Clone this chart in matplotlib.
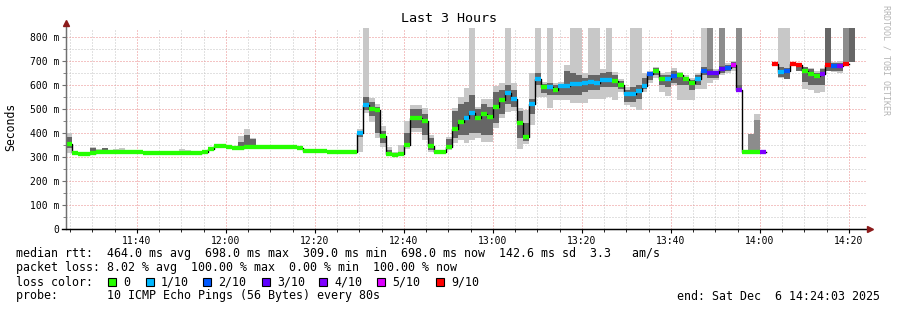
import numpy as np
import matplotlib
matplotlib.use('Agg')
import matplotlib.pyplot as plt
from matplotlib.patches import Rectangle

nan = np.nan

# window start 11:24:03 (minutes after midnight), one probe round every 80 s
start = 11 * 60 + 24 + 3 / 60
step = 80 / 60

# median rtt per round (ms)
median = ([355, 317, 312, 312, 318] + [322] * 8 + [318] * 10 +
          [321, 333, 346, 346, 340, 336, 339, 343, 343] + [340] * 7 + [336] + [326] * 4 + [322] * 5 +
          [401, 516, 500, 494, 389, 314, 308, 314, 350, 464, 464, 450, 347, 322, 321, 343, 415, 445,
           461, 482, 461, 479, 468, 507, 537, 565, 543, 443, 382, 521, 624, 593, 593, 579,
           595, 597, 604, 604, 607, 614, 610, 621, 621, 617, 600, 562, 562, 574, 596, 646, 658,
           624, 625, 637, 640, 627, 608, 625, 658, 649, 652, 665, 671, 683, 579,
           322, 322, 322, 322, nan, 687, 656, 660, 689, 684, 657, 645, 639, 647, 683, 679, 680, 689,
           nan, nan, nan])

# lost pings out of 10
loss = ([0] * 49 + [1, 1] + [0] * 16 +
        [1, 1, 0, 0, 0, 0, 0, 1, 1, 0, 0, 1, 1, 0, 1, 0] + [1] * 9 + [0, 0] + [1] * 4 +
        [2, 0, 0, 1, 2, 0, 0, 0, 1, 2, 3, 3, 3, 2, 5, 4] + [0, 0, 0, 4] + [nan] +
        [9, 1, 2, 9, 9, 0, 0, 0, 4, 9, 2, 4, 9] + [nan] * 3)

# outer smoke (slowest / fastest ping)
smoke_lo = ([318, 312, nan, 312, 318, 318, 318, nan, 318, 318] + [nan] * 9 + [316, 316] + [nan] * 8 +
            [338, 340, 340] + [nan] * 17 +
            [321, 483, 446, 379, 342, 314, 306, 312, 333, 404, 404, 371, 321, 318, 318, 329, 358, 371,
             358, 371, 379, 362, 362, 421, 462, 487, 490, 333, 354, 433, 550, 550, 504, 537,
             537, 537, 525, 525, 525, 540, 540, 540, 550, 537, 571, 517, 508, 496, 571, 608, 629,
             571, 554, 600, 537, 537, 537, 583, 583, 610, 620, 640, 650, 660, nan,
             nan, nan, 454, nan, nan, nan, 629, 625, nan, nan, 583, 579, 567, 571, nan, 654, 650, nan,
             nan, nan, nan])
smoke_hi = ([400, 322, nan, 320, 342, 332, 338, nan, 333, 338] + [nan] * 9 + [332, 330] + [nan] * 8 +
            [388, 416, 380] + [nan] * 17 +
            [416, 838, 546, 521, 429, 340, 321, 350, 450, 516, 516, 504, 392, 330, 330, 383, 504, 550,
             587, 838, 508, 542, 540, 596, 610, 838, 610, 504, 496, 650, 838, 612, 838, 610,
             612, 683, 838, 838, 650, 838, 838, 665, 838, 654, 625, 592, 838, 838, 650, 658, 675,
             650, 654, 670, 654, 640, 630, 650, 838, 665, 665, 680, 690, 700, nan,
             nan, nan, 479, nan, nan, nan, 838, 838, nan, nan, 675, 671, 658, 671, nan, 696, 700, nan,
             nan, nan, nan])

# dense core of the smoke
core_lo = ([338, nan, nan, nan, 322, nan, 322] + [nan] * 22 + [340, 345, 345] + [nan] * 17 +
           [385, 496, 470, 400, 360, 316, nan, nan, 340, 420, 420, 390, 330, nan, nan, 335, 380, 390,
            390, 400, 400, 390, 390, 440, 480, 520, 510, 380, 365, 480, 600, 565, 560, 560,
            560, 560, 560, 560, 570, 580, 580, 590, 590, 590, 585, 530, 530, 540, 585, 620, 640,
            600, 590, 610, 600, 600, 580, 600, 640, 630, 630, 650, 660, 670, 570,
            nan, nan, nan, nan, nan, 683, 633, 625, 680, 660, 612, 600, 600, 600, 660, 660, 660, nan,
            696, nan, nan])
core_hi = ([385, nan, nan, nan, 338, nan, 338] + [nan] * 22 + [362, 392, 375] + [nan] * 17 +
           [410, 550, 530, 510, 410, 330, nan, nan, 400, 500, 500, 480, 380, nan, nan, 375, 490, 520,
            530, 560, 500, 520, 510, 570, 580, 600, 580, 490, 440, 540, 650, 605, 610, 600,
            605, 660, 650, 640, 630, 640, 640, 650, 655, 640, 615, 580, 590, 600, 630, 655, 670,
            640, 640, 660, 650, 635, 620, 640, 675, 665, 660, 680, 685, 695, 600,
            nan, nan, nan, nan, nan, 695, 675, 671, 696, 690, 675, 665, 650, 665, 838, 690, 690, nan,
            838, nan, nan])

# rounds with a middle-grey smoke column
mid_round = [108, 110, 113, 115, 116, 131]
mid_lo = [665, 680, 600, 321, 329, 689]
mid_hi = [838, 838, 838, 396, 454, 838]

loss_levels = [0, 1, 2, 3, 4, 5, 9]
loss_colors = {0: '#26ff00', 1: '#00b8ff', 2: '#0059ff', 3: '#5e00ff',
               4: '#7e00ff', 5: '#dd00ff', 9: '#ff0000'}

plt.rcParams['font.family'] = ['DejaVu Sans Mono']

W, H = 897, 310
fig = plt.figure(figsize=(W / 100, H / 100), dpi=100)
ax = fig.add_axes([66 / W, 81 / H, 801 / W, 201 / H])

n = len(median)
x = start + step * np.arange(n)
med = np.array(median, dtype=float)


def smoke(lo, hi, color):
    lo = np.array(lo, dtype=float)
    hi = np.array(hi, dtype=float)
    ok = ~np.isnan(lo)
    ax.bar(x[ok], hi[ok] - lo[ok], bottom=lo[ok], width=step, align='edge',
           color=color, linewidth=0, antialiased=False, zorder=2)


smoke(smoke_lo, smoke_hi, '#c8c8c8')
ax.bar(x[mid_round], np.array(mid_hi) - np.array(mid_lo), bottom=mid_lo, width=step,
       align='edge', color='#8c8c8c', linewidth=0, antialiased=False, zorder=2)
smoke(core_lo, core_hi, '#666666')

# median line and loss colour
xs = np.append(x, x[-1] + step)
ax.step(xs, np.append(med, med[-1]), where='post', color='black', lw=1, zorder=3)
for i in range(n):
    if np.isnan(med[i]):
        continue
    ax.hlines(med[i], x[i], x[i] + step, colors=loss_colors[int(loss[i])], lw=3.1,
              zorder=4, capstyle='butt')

ax.set_xlim(start, start + 180)
ax.set_ylim(0, 837.5)
ax.set_yticks(np.arange(0, 801, 100))
ax.set_yticklabels(['0'] + ['%d m' % v for v in range(100, 801, 100)])
ax.set_yticks(np.arange(50, 801, 100), minor=True)
xt = np.arange(700, 861, 20)
ax.set_xticks(xt)
ax.set_xticklabels(['%d:%02d' % (m // 60, m % 60) for m in xt])
ax.set_xticks(np.arange(685, 865, 5), minor=True)

ax.grid(which='minor', color='#c4c4c4', lw=0.72, linestyle=(0, (1, 2)), zorder=0)
ax.grid(which='major', color='#ea8a8a', lw=0.72, linestyle=(0, (1, 2)), zorder=0)
ax.set_axisbelow(True)
ax.tick_params(which='both', direction='out', labelsize=7, pad=2)
ax.tick_params(which='major', length=3)
ax.tick_params(which='minor', length=2)
ax.tick_params(axis='y', which='both', colors='#707070', labelcolor='black')
for s in ['top', 'right']:
    ax.spines[s].set_visible(False)
ax.spines['left'].set_color('#707070')
ax.spines['bottom'].set_color('black')

# axis arrows
fig.add_artist(plt.Line2D([66 / W, 66 / W], [1 - 229 / H, 1 - 23 / H], color='#707070', lw=1))
fig.add_artist(plt.Line2D([66 / W], [1 - 23 / H], marker='^', ms=4, color='#8b1a1a'))
fig.add_artist(plt.Line2D([62 / W, 869 / W], [1 - 229 / H, 1 - 229 / H], color='black', lw=1))
fig.add_artist(plt.Line2D([870 / W], [1 - 229 / H], marker='>', ms=4, color='#8b1a1a'))

fig.text(0.5, 1 - 19 / H, 'Last 3 Hours', ha='center', va='center', fontsize=9.6)
fig.text(11 / W, 1 - 127 / H, 'Seconds', rotation=90, ha='center', va='center', fontsize=8.3)
fig.text(886 / W, 1 - 60 / H, 'RRDTOOL / TOBI OETIKER', rotation=270, ha='center', va='center',
         fontsize=6, color='#b4b4b4')

lines = ['median rtt:  464.0 ms avg  698.0 ms max  309.0 ms min  698.0 ms now  142.6 ms sd  3.3   am/s',
         'packet loss: 8.02 % avg  100.00 % max  0.00 % min  100.00 % now',
         'loss color:',
         'probe:       10 ICMP Echo Pings (56 Bytes) every 80s']
for k, t in enumerate(lines):
    fig.text(16 / W, 1 - (254 + 14 * k) / H, t, ha='left', va='center', fontsize=8.4)
fig.text(880 / W, 1 - 296 / H, 'end: Sat Dec  6 14:24:03 2025', ha='right', va='center', fontsize=8.4)

sq_x = [108, 146, 203, 262, 319, 377, 436]
for px, lv in zip(sq_x, loss_levels):
    fig.add_artist(Rectangle((px / W, 1 - 286 / H), 8 / W, 8 / H, transform=fig.transFigure,
                             facecolor=loss_colors[lv], edgecolor='black', lw=0.8))
    fig.text((px + 15) / W, 1 - 282 / H, '0' if lv == 0 else '%d/10' % lv,
             ha='left', va='center', fontsize=8.4)

fig.savefig('out.png', dpi=100, facecolor='white')
